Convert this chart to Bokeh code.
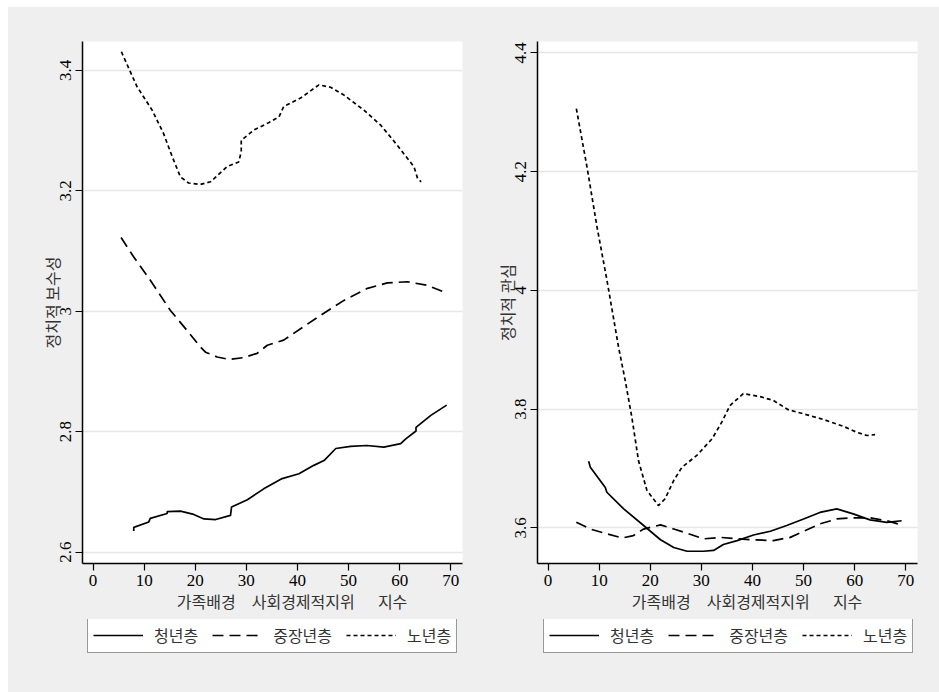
import math
from bokeh.plotting import figure
from bokeh.layouts import row, column
from bokeh.models import Range1d, FixedTicker, Legend, LegendItem, Spacer
from bokeh.embed import file_html
from bokeh.resources import INLINE

# ---- data: smoothed curves by age group -------------------------------
x_ticks = [0, 10, 20, 30, 40, 50, 60, 70]

cons_ticks = [2.6, 2.8, 3.0, 3.2, 3.4]
cons_tick_labels = {2.6: "2.6", 2.8: "2.8", 3.0: "3", 3.2: "3.2", 3.4: "3.4"}

int_ticks = [3.6, 3.8, 4.0, 4.2, 4.4]
int_tick_labels = {3.6: "3.6", 3.8: "3.8", 4.0: "4", 4.2: "4.2", 4.4: "4.4"}

groups = ["청년층", "중장년층", "노년층"]

# 정치적 보수성
cons_young_x = [7.96, 7.96, 10.9, 11.2, 14.5, 14.5, 17.1, 19.7, 21.7, 24.0, 26.9, 27.1,
                30.2, 33.4, 37.0, 40.3, 43.2, 45.2, 47.5, 50.4, 53.6, 56.9, 60.2, 61.2,
                63.2, 63.2, 66.1, 69.2]
cons_young_y = [2.635, 2.641, 2.650, 2.656, 2.664, 2.667, 2.668, 2.6625, 2.655, 2.654,
                2.661, 2.675, 2.687, 2.705, 2.722, 2.730, 2.744, 2.752, 2.772, 2.7756,
                2.777, 2.7744, 2.780, 2.788, 2.801, 2.807, 2.827, 2.844]

cons_mid_x = [5.48, 7.96, 11.2, 15.1, 18.4, 21.0, 22.0, 24.3, 26.6, 29.5, 32.1, 34.1,
              37.3, 40.6, 44.5, 49.1, 53.7, 57.6, 61.5, 65.4, 69.3]
cons_mid_y = [3.1225, 3.090, 3.0515, 3.0017, 2.968, 2.9406, 2.932, 2.924, 2.920, 2.923,
              2.930, 2.9435, 2.952, 2.971, 2.993, 3.018, 3.038, 3.047, 3.049, 3.043, 3.030]

cons_old_x = [5.54, 6.98, 8.6, 11.56, 13.8, 15.5, 17.1, 18.7, 21.0, 23.0, 26.2, 28.5,
              29.0, 29.0, 31.5, 34.1, 36.4, 37.3, 40.6, 44.2, 46.5, 49.1, 53.0, 56.3,
              59.5, 62.8, 63.5, 64.2]
cons_old_y = [3.431, 3.4035, 3.373, 3.334, 3.295, 3.2565, 3.223, 3.213, 3.2106, 3.215,
              3.240, 3.248, 3.265, 3.284, 3.301, 3.312, 3.323, 3.340, 3.354, 3.376,
              3.372, 3.359, 3.334, 3.309, 3.276, 3.240, 3.221, 3.215]

# 정치적 관심
int_young_x = [7.94, 8.27, 11.2, 11.5, 14.8, 18.7, 22.0, 24.6, 27.2, 30.4, 32.4, 34.3,
               37.0, 40.2, 43.5, 46.7, 50.0, 53.2, 56.5, 59.7, 63.0, 66.3, 69.2]
int_young_y = [3.712, 3.702, 3.668, 3.660, 3.632, 3.604, 3.580, 3.567, 3.5606, 3.5606,
               3.562, 3.572, 3.5786, 3.588, 3.5943, 3.604, 3.615, 3.626, 3.632, 3.6236,
               3.6135, 3.6094, 3.612]

int_mid_x = [5.53, 8.27, 11.5, 14.5, 16.7, 18.7, 22.0, 24.6, 27.2, 30.4, 33.7, 37.0,
             40.2, 44.1, 47.4, 50.0, 53.2, 56.5, 59.7, 63.0, 66.3, 68.9]
int_mid_y = [3.6094, 3.598, 3.590, 3.583, 3.587, 3.598, 3.605, 3.598, 3.591, 3.5815,
             3.584, 3.5815, 3.580, 3.5786, 3.584, 3.594, 3.6067, 3.615, 3.6169, 3.6169,
             3.612, 3.6056]

int_old_x = [5.53, 7.62, 9.58, 11.53, 13.8, 15.1, 16.4, 17.7, 19.35, 21.6, 22.9, 24.6,
             26.2, 29.1, 32.1, 34.0, 35.6, 38.2, 41.5, 44.1, 47.0, 50.0, 53.9, 57.8,
             60.4, 62.4, 64.0]
int_old_y = [4.306, 4.2076, 4.1065, 4.0167, 3.904, 3.848, 3.786, 3.713, 3.663, 3.6376,
             3.649, 3.680, 3.702, 3.722, 3.750, 3.778, 3.806, 3.826, 3.821, 3.8145,
             3.799, 3.792, 3.7825, 3.771, 3.761, 3.7555, 3.757]

NB = "\u00a0"
x_title = ("\u3000\u3000" + NB * 2 + "가족배경\u3000사회경제적지위\u3000" + NB * 2 + "지수")

# ---- styling ------------------------------------------------------------
BG = "#efefef"
KR_FONT = "Noto Sans CJK KR"
NUM_FONT = "Liberation Serif"
LINE_STYLES = [dict(line_dash="solid"), dict(line_dash="11 6"), dict(line_dash="4 3")]
LINE_W = 1.7


def panel(width, border_left, border_right, y_range, y_ticks, y_labels, y_title,
          series):
    p = figure(width=width, height=612, output_backend="svg", toolbar_location=None,
               x_range=Range1d(-2.07, 72.3), y_range=y_range,
               background_fill_color="white", border_fill_color=BG,
               outline_line_color=None,
               min_border_left=border_left, min_border_right=border_right,
               min_border_top=34, min_border_bottom=56)

    for (xs, ys), style in zip(series, LINE_STYLES):
        p.line(xs, ys, line_color="black", line_width=LINE_W, **style)

    p.xgrid.grid_line_color = None
    p.ygrid.grid_line_color = "#e6e6e6"
    p.ygrid.grid_line_width = 1.6
    p.ygrid.ticker = FixedTicker(ticks=y_ticks)

    for ax in (p.xaxis[0], p.yaxis[0]):
        ax.axis_line_color = "black"
        ax.axis_line_width = 1.5
        ax.major_tick_line_color = "black"
        ax.major_tick_line_width = 1.2
        ax.major_tick_out = 7
        ax.major_tick_in = 0
        ax.minor_tick_line_color = None
        ax.major_label_text_font = NUM_FONT
        ax.major_label_text_font_size = "17px"
        ax.major_label_text_color = "black"
        ax.axis_label_text_font = KR_FONT
        ax.axis_label_text_font_size = "16px"
        ax.axis_label_text_font_style = "normal"
        ax.axis_label_text_color = "#333333"

    p.xaxis.ticker = FixedTicker(ticks=x_ticks)
    p.xaxis.major_label_standoff = 4
    p.xaxis.axis_label = x_title
    p.xaxis.axis_label_standoff = 0

    p.yaxis.ticker = FixedTicker(ticks=y_ticks)
    p.yaxis.major_label_overrides = y_labels
    p.yaxis.major_label_orientation = "vertical"
    p.yaxis.major_label_standoff = 4
    p.yaxis.axis_label = y_title
    p.yaxis.axis_label_standoff = -6
    return p


def legend_strip(width, box_left, series):
    # a plain strip below each panel that carries the group key; the key
    # lines reuse the panel's series, which fall outside this strip's ranges
    lp = figure(width=width, height=73, output_backend="svg", toolbar_location=None,
                x_range=Range1d(0, 1), y_range=Range1d(0, 1),
                x_axis_type=None, y_axis_type=None,
                background_fill_color=BG, border_fill_color=BG,
                outline_line_color=None, min_border=0)
    lp.grid.visible = False
    keys = [lp.line(xs, ys, line_color="black", line_width=LINE_W, **style)
            for (xs, ys), style in zip(series, LINE_STYLES)]
    legend = Legend(
        items=[LegendItem(label=g, renderers=[r]) for g, r in zip(groups, keys)],
        orientation="horizontal", location=(box_left, 39),
        glyph_width=50, glyph_height=16, label_height=18,
        label_standoff=11, spacing=14, padding=5, margin=0,
        label_text_font=KR_FONT, label_text_font_size="16px",
        label_text_color="#333333",
        border_line_color="#333333", border_line_width=1.5,
        background_fill_color="white", background_fill_alpha=1.0)
    lp.add_layout(legend, "center")
    return lp


cons_series = [(cons_young_x, cons_young_y), (cons_mid_x, cons_mid_y),
               (cons_old_x, cons_old_y)]
int_series = [(int_young_x, int_young_y), (int_mid_x, int_mid_y),
              (int_old_x, int_old_y)]

p1 = panel(462, 74, 8, Range1d(2.581, 3.448), cons_ticks, cons_tick_labels,
           "정치적 보수성", cons_series)
p2 = panel(469, 67, 22, Range1d(3.540, 4.419), int_ticks, int_tick_labels,
           "정치적 관심", int_series)
l1 = legend_strip(462, 79, cons_series)
l2 = legend_strip(469, 73, int_series)

grey_block = column(row(p1, p2, spacing=0), row(l1, l2, spacing=0), spacing=0,
                    styles={"background-color": BG})
layout = column(Spacer(width=939, height=7),
                row(Spacer(width=8, height=685), grey_block, spacing=0),
                spacing=0)

open("out.html", "w").write(file_html(layout, INLINE))
